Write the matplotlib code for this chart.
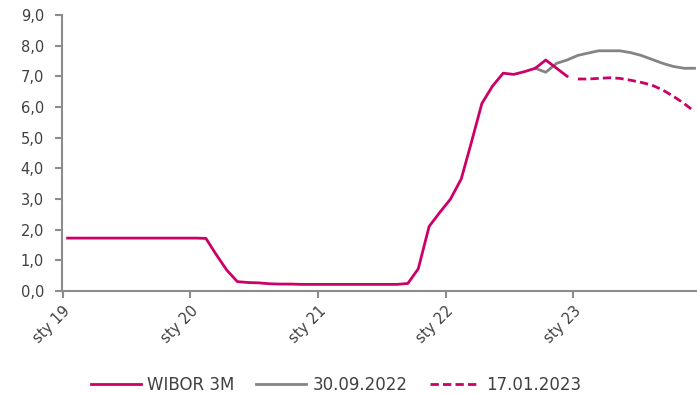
import matplotlib
matplotlib.use("Agg")
import matplotlib.pyplot as plt
import pandas as pd
from matplotlib.ticker import FuncFormatter, MultipleLocator

MAGENTA = "#CC0066"
GRAY = "#848484"
TEXT = "#404040"

# monthly values, plotted mid-month
wibor_months = pd.date_range("2019-01-01", periods=48, freq="MS") + pd.Timedelta(days=14)
wibor = [1.72] * 12 + [
    1.72, 1.71, 1.19, 0.67, 0.30, 0.27, 0.26, 0.23, 0.22, 0.22, 0.21, 0.21,
    0.21, 0.21, 0.21, 0.21, 0.21, 0.21, 0.21, 0.21, 0.24, 0.72, 2.10, 2.55,
    2.99, 3.65, 4.80, 6.11, 6.67, 7.10, 7.06, 7.15, 7.26, 7.53, 7.26, 7.00,
]

fra_sep_months = pd.date_range("2022-09-01", periods=16, freq="MS") + pd.Timedelta(days=14)
fra_sep = [7.26, 7.13, 7.42, 7.53, 7.68, 7.76, 7.83, 7.83,
           7.83, 7.77, 7.68, 7.55, 7.42, 7.32, 7.26, 7.26]

fra_jan_months = pd.date_range("2023-01-01", periods=12, freq="MS") + pd.Timedelta(days=14)
fra_jan = [6.91, 6.91, 6.93, 6.95, 6.93, 6.87, 6.80, 6.71, 6.55, 6.35, 6.11, 5.85]

tick_dates = pd.to_datetime(["2019-01-01", "2020-01-01", "2021-01-01", "2022-01-01", "2023-01-01"])
tick_labels = ["sty 19", "sty 20", "sty 21", "sty 22", "sty 23"]

plt.rcParams["font.family"] = ["DejaVu Sans"]

fig = plt.figure(figsize=(6.97, 3.93), dpi=100)
ax = fig.add_axes([0.089, 0.26, 0.911, 0.702])

ax.plot(fra_sep_months, fra_sep, color=GRAY, lw=2.0, label="30.09.2022")
ax.plot(wibor_months, wibor, color=MAGENTA, lw=2.0, label="WIBOR 3M")
ax.plot(fra_jan_months, fra_jan, color=MAGENTA, lw=2.0, ls=(0, (3, 1.5)), label="17.01.2023")

ax.set_xlim(pd.Timestamp("2018-12-30"), pd.Timestamp("2023-12-22"))
ax.set_ylim(0, 9)
ax.yaxis.set_major_locator(MultipleLocator(1))
ax.yaxis.set_major_formatter(FuncFormatter(lambda v, _: f"{v:.1f}".replace(".", ",")))
ax.set_xticks(tick_dates)
ax.set_xticklabels(tick_labels, rotation=45, ha="right", rotation_mode="anchor")

for side in ("top", "right"):
    ax.spines[side].set_visible(False)
for side in ("left", "bottom"):
    ax.spines[side].set_color("#8c8c8c")
    ax.spines[side].set_linewidth(1.5)
ax.tick_params(axis="both", colors="#8c8c8c", width=1.5, length=5, labelsize=10.5,
               labelcolor=TEXT)
ax.tick_params(axis="x", pad=4)
ax.tick_params(axis="y", pad=8)

h, l = ax.get_legend_handles_labels()
order = [1, 0, 2]
fig.legend([h[i] for i in order], [l[i] for i in order], loc="center",
           bbox_to_anchor=(0.482, 0.02), ncol=3, frameon=False, fontsize=12,
           handlelength=3.0, columnspacing=1.3, handletextpad=0.4, labelcolor=TEXT)

fig.savefig("out.png", dpi=100)
